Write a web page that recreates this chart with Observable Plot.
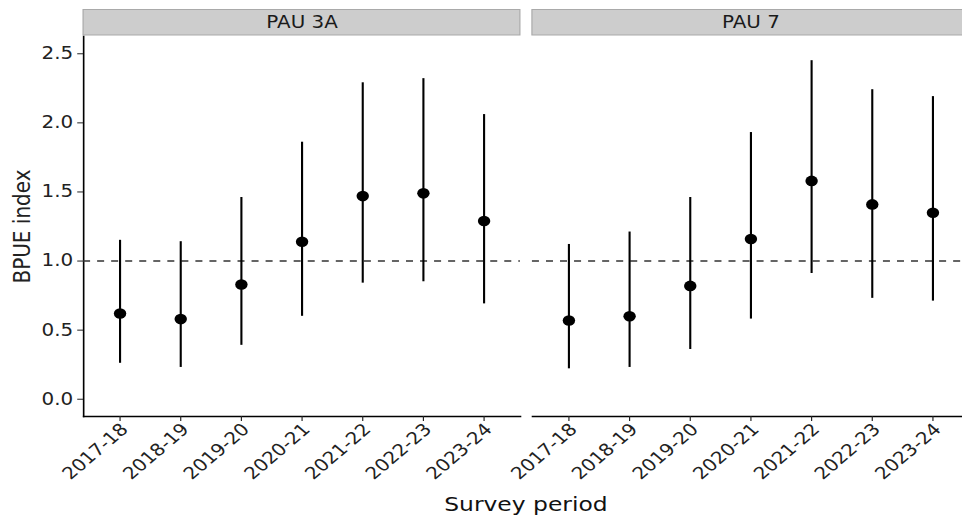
<!DOCTYPE html>
<html><head><meta charset="utf-8">
<script src="https://cdn.jsdelivr.net/npm/d3@7"></script>
<script src="https://cdn.jsdelivr.net/npm/@observablehq/plot@0.6"></script>
<style>
html,body{margin:0;padding:0;background:#fff;overflow:hidden;}
#wrap{position:relative;width:829px;height:518px;font-family:"DejaVu Sans",sans-serif;transform:scaleX(1.17);transform-origin:0 0;}
#xtitle{position:absolute;left:71px;width:757px;top:493px;text-align:center;font-size:20px;line-height:1.164;color:#111;}
</style></head><body><div id="wrap"></div>
<script>
const panels = ["PAU 3A", "PAU 7"];
const periods = ["2017-18", "2018-19", "2019-20", "2020-21", "2021-22", "2022-23", "2023-24"];
const est3A = [0.62, 0.58, 0.83, 1.14, 1.47, 1.49, 1.29];
const lo3A  = [0.26, 0.23, 0.39, 0.60, 0.84, 0.85, 0.69];
const hi3A  = [1.15, 1.14, 1.46, 1.86, 2.29, 2.32, 2.06];
const est7  = [0.57, 0.60, 0.82, 1.16, 1.58, 1.41, 1.35];
const lo7   = [0.22, 0.23, 0.36, 0.58, 0.91, 0.73, 0.71];
const hi7   = [1.12, 1.21, 1.46, 1.93, 2.45, 2.24, 2.19];
const yTicks = [0, 0.5, 1, 1.5, 2, 2.5];
const refLine = [1];
const xTitle = "Survey period";
const yTitle = "BPUE index";

const rows = [];
periods.forEach((p, i) => {
  rows.push({panel: panels[0], period: p, est: est3A[i], lo: lo3A[i], hi: hi3A[i]});
  rows.push({panel: panels[1], period: p, est: est7[i], lo: lo7[i], hi: hi7[i]});
});
const strips = panels.map(p => ({panel: p}));

const H = 518, MT = 36, MB = 102;
const chart = Plot.plot({
  width: 829, height: H,
  marginTop: MT, marginBottom: MB, marginLeft: 71, marginRight: 1,
  style: {fontFamily: "DejaVu Sans, sans-serif", fontSize: "17px", color: "#1a1a1a", background: "white", overflow: "visible"},
  fx: {domain: panels, paddingInner: 0.0268, paddingOuter: 0, round: false, axis: null, label: null},
  x: {type: "point", domain: periods, padding: 0.6, round: false, label: null},
  y: {domain: [-0.125, 2.625], label: yTitle},
  marks: [
    Plot.rect(strips, {fx: "panel", fill: "#cdcdcd", stroke: "#a9a9a9", strokeWidth: 1, insetTop: -26.5, insetBottom: (H - MT - MB) + 1}),
    Plot.text(strips, {fx: "panel", text: "panel", frameAnchor: "top", lineAnchor: "middle", dy: -13.5, fontSize: 17, fill: "#1a1a1a"}),
    Plot.frame({anchor: "bottom", stroke: "#000", strokeWidth: 1.4, strokeOpacity: 1}),
    Plot.frame({anchor: "left", facetAnchor: "left", stroke: "#000", strokeWidth: 1.4, strokeOpacity: 1}),
    Plot.ruleY(refLine, {y: d => d, stroke: "#333", strokeWidth: 1.4, strokeDasharray: "6,6"}),
    Plot.ruleX(rows, {fx: "panel", x: "period", y1: "lo", y2: "hi", stroke: "#000", strokeWidth: 1.8}),
    Plot.dot(rows, {fx: "panel", x: "period", y: "est", r: 5.3, fill: "#000", stroke: "none"}),
    Plot.axisY(yTicks, {tickFormat: d3.format(".1f"), tickSize: 5, tickPadding: 4, stroke: "#222", fill: "#222",
      label: yTitle, labelAnchor: "center", labelArrow: "none", labelOffset: 60, fontSize: 17}),
    Plot.axisX({tickSize: 5, tickFormat: () => "", label: null, stroke: "#222"}),
    Plot.axisX({tickRotate: -45, tickSize: 0, tickPadding: 8, dx: 4, dy: 2, label: null, fill: "#222", fontSize: 17})
  ]
});
const wrap = document.getElementById("wrap");
wrap.appendChild(chart);
chart.querySelectorAll("[aria-label='y-axis label'] text, g[aria-label='y-axis label']").forEach(el => { el.setAttribute("font-size", 20); });
const t = document.createElement("div");
t.id = "xtitle";
t.textContent = xTitle;
wrap.appendChild(t);
</script></body></html>
